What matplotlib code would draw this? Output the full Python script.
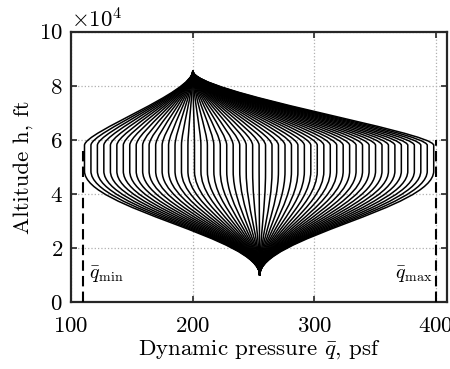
import numpy as np
import matplotlib
matplotlib.use('Agg')
import matplotlib.pyplot as plt
from matplotlib.path import Path
from matplotlib.patches import PathPatch
from matplotlib.ticker import ScalarFormatter

plt.rcParams['font.family'] = 'serif'
plt.rcParams['font.serif'] = ['cmr10']
plt.rcParams['mathtext.fontset'] = 'cm'
plt.rcParams['axes.unicode_minus'] = False
plt.rcParams['axes.formatter.use_mathtext'] = True

# envelope data (q in psf, h in ft)
apex_top = (200, 85500)
apex_bottom = (255, 10000)
band_top = 58000
band_bottom = 48500

# dynamic pressure of each trajectory in the constant-altitude band
mid_q = [111.0, 116.3, 121.6, 126.9, 132.3, 137.6, 142.9, 148.2, 153.5, 158.8,
         164.1, 169.5, 174.8, 180.1, 185.4, 190.7, 196.0, 201.4, 206.7, 212.0,
         217.3, 222.6, 227.9, 233.2, 238.6, 243.9, 249.2, 254.5, 259.8, 265.1,
         270.4, 275.8, 281.1, 286.4, 291.7, 297.0, 302.3, 307.7, 313.0, 318.3,
         323.6, 328.9, 334.2, 339.5, 344.9, 350.2, 355.5, 360.8, 366.1, 371.4,
         376.7, 382.1, 387.4, 392.7, 398.0]

q_limits = [110, 400]
q_limit_tops = [56000, 60000]

# bezier handle lengths (ft)
TOP_PULL, BAND_PULL_UP = 8000, 5000
BAND_PULL_DOWN, BOTTOM_PULL = 14000, 14000

FS = 16.5

fig = plt.figure(figsize=(4.5, 3.69), dpi=100)
ax = fig.add_axes([0.158, 0.181, 0.835, 0.733])

codes = [Path.MOVETO, Path.CURVE4, Path.CURVE4, Path.CURVE4,
         Path.LINETO, Path.CURVE4, Path.CURVE4, Path.CURVE4]
for q in mid_q:
    verts = [apex_top,
             (apex_top[0], apex_top[1] - TOP_PULL),
             (q, band_top + BAND_PULL_UP),
             (q, band_top),
             (q, band_bottom),
             (q, band_bottom - BAND_PULL_DOWN),
             (apex_bottom[0], apex_bottom[1] + BOTTOM_PULL),
             apex_bottom]
    ax.add_patch(PathPatch(Path(verts, codes), facecolor='none',
                           edgecolor='black', lw=1.1, zorder=3))

for q, top in zip(q_limits, q_limit_tops):
    ax.plot([q, q], [0, top], color='black', lw=1.5, ls=(0, (5, 2.5)), zorder=3)

ax.text(115, 10000, r'$\bar{q}_{\rm min}$', fontsize=14.5, va='center', ha='left')
ax.text(397, 10000, r'$\bar{q}_{\rm max}$', fontsize=14.5, va='center', ha='right')

ax.set_xlim(100, 408.8)
ax.set_ylim(0, 100000)
ax.set_xticks([100, 200, 300, 400])
ax.set_yticks([0, 20000, 40000, 60000, 80000, 100000])
fmt = ScalarFormatter(useMathText=True)
fmt.set_powerlimits((4, 4))
ax.yaxis.set_major_formatter(fmt)
ax.yaxis.get_offset_text().set_fontsize(FS)

ax.grid(True, ls=':', color='#b0b0b0', lw=0.9, zorder=0)
ax.tick_params(direction='in', top=True, right=True, length=4, width=1.2,
               labelsize=FS, color='#262626')
ax.tick_params(axis='x', pad=10)
ax.tick_params(axis='y', pad=6)
for s in ax.spines.values():
    s.set_linewidth(1.6)
    s.set_color('#262626')

ax.set_xlabel(r'Dynamic pressure $\bar{q}$, psf', fontsize=FS, labelpad=2)
ax.set_ylabel('Altitude h, ft', fontsize=FS, labelpad=4)

fig.savefig('out.png', dpi=100)
